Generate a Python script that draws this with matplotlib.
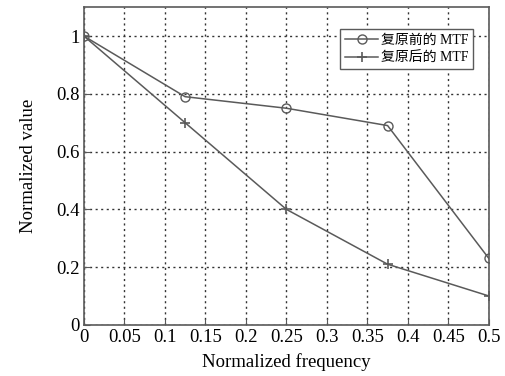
import numpy as np
import matplotlib.pyplot as plt

freq = [0, 0.125, 0.25, 0.375, 0.5]
mtf_before = [1.0, 0.79, 0.75, 0.69, 0.23]
mtf_after = [1.0, 0.70, 0.40, 0.21, 0.10]
xticks = [0, 0.05, 0.1, 0.15, 0.2, 0.25, 0.3, 0.35, 0.4, 0.45, 0.5]
xticklabels = ['0', '0.05', '0.1', '0.15', '0.2', '0.25', '0.3', '0.35', '0.4', '0.45', '0.5']
yticks = [0, 0.2, 0.4, 0.6, 0.8, 1]
yticklabels = ['0', '0.2', '0.4', '0.6', '0.8', '1']

plt.rcParams['font.family'] = ['Liberation Serif', 'Noto Sans CJK SC']

fig = plt.figure(figsize=(5.05, 3.76), dpi=100)
ax = fig.add_axes([0.166, 0.136, 0.802, 0.845])

col = '#5a5a5a'
ax.plot(freq, mtf_before, color=col, lw=1.1, marker='o', ms=6.5, mfc='none', mec=col,
        label='复原前的 MTF')
ax.plot(freq, mtf_after, color=col, lw=1.1, marker='+', ms=6.5, mew=1.2,
        label='复原后的 MTF')

ax.set_xlim(0, 0.5)
ax.set_ylim(0, 1.1)
ax.set_xticks(xticks)
ax.set_xticklabels(xticklabels)
ax.set_yticks(yticks)
ax.set_yticklabels(yticklabels)
ax.grid(True, color='#333333', linestyle=(0, (1.5, 2.5)), lw=1.0)
ax.tick_params(direction='in', length=4, color=col, labelsize=13.5, pad=3)
for s in ax.spines.values():
    s.set_color(col)
    s.set_linewidth(1.2)

ax.set_xlabel('Normalized frequency', fontsize=13.5, labelpad=5)
ax.set_ylabel('Normalized value', fontsize=13.5, labelpad=14)

leg = ax.legend(loc='upper right', bbox_to_anchor=(0.962, 0.932),
                frameon=True, fancybox=False, framealpha=1, edgecolor=col,
                handlelength=2.4, borderpad=0.35, labelspacing=0.35, handletextpad=0.2,
                borderaxespad=0,
                prop={'family': ['Liberation Serif', 'Noto Sans CJK SC'], 'size': 10})
leg.get_frame().set_linewidth(1.0)

fig.savefig('out.png', dpi=100)
